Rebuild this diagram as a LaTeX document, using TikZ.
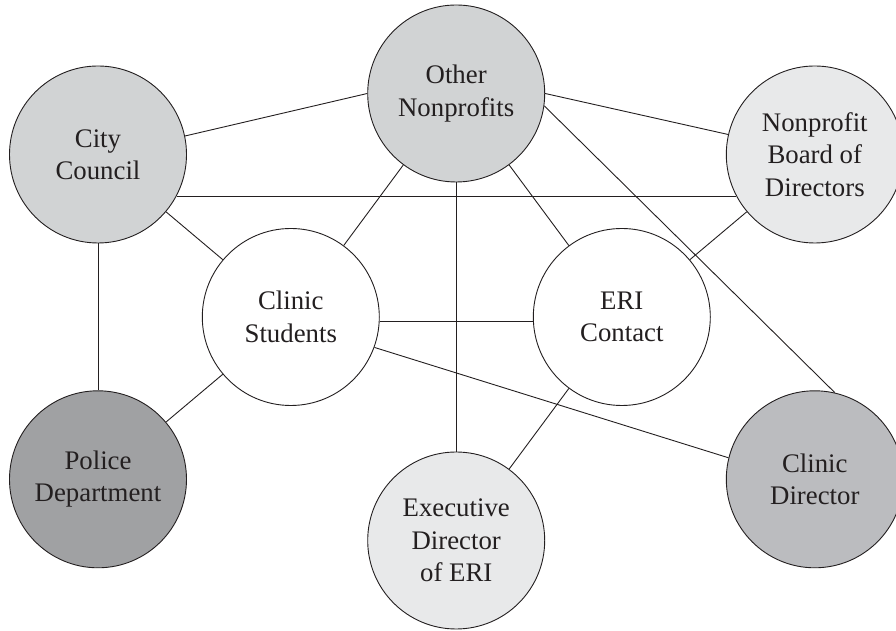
\documentclass[tikz,border=0pt]{standalone}
\usepackage{fontspec}
\setmainfont{Liberation Serif}
\definecolor{inkc}{HTML}{231F20}
\definecolor{fillA}{HTML}{D1D3D4}
\definecolor{fillB}{HTML}{E8E9EA}
\definecolor{fillC}{HTML}{A0A1A3}
\definecolor{fillD}{HTML}{BBBCBF}
\begin{document}
\begin{tikzpicture}[x=1pt,y=1pt,
  actor/.style={circle, draw=inkc, line width=0.9pt, minimum size=177pt, inner sep=0pt,
    align=center, text=inkc, font=\fontsize{26.8}{32.4}\selectfont},
  link/.style={draw=inkc, line width=0.9pt}]
\useasboundingbox (0,0) rectangle (896,631);
\node[actor, fill=fillA] (cc)  at (98,476.5)   {City\\Council};
\node[actor, fill=fillA] (on)  at (456.2,537.5) {Other\\Nonprofits};
\node[actor, fill=fillB] (bd)  at (814.8,476.5) {Nonprofit\\Board of\\Directors};
\node[actor, fill=white] (cs)  at (290.8,314)   {Clinic\\Students};
\node[actor, fill=white] (eri) at (621.8,314)   {ERI\\Contact};
\node[actor, fill=fillC] (pd)  at (98,151.7)    {Police\\Department};
\node[actor, fill=fillB] (ex)  at (456.2,90.5)  {Executive\\Director\\of ERI};
\node[actor, fill=fillD] (cd)  at (814.8,151.7) {Clinic\\Director};
\path[link] (cc.12.6) -- (on.180.5);
\path[link] (cc.-28.5) -- (bd.208.5);
\path[link] (cc) -- (cs);
\path[link] (cc) -- (pd);
\path[link] (on) -- (cs);
\path[link] (on) -- (eri);
\path[link] (on.0) -- (bd.167.3);
\path[link] (on.-8.5) -- (cd.77);
\path[link] (on) -- (ex);
\path[link] (bd) -- (eri);
\path[link] (cs.-3.7) -- (eri.183.7);
\path[link] (cs.-20.6) -- (cd.166);
\path[link] (cs) -- (pd);
\path[link] (eri) -- (ex);
\end{tikzpicture}
\end{document}
